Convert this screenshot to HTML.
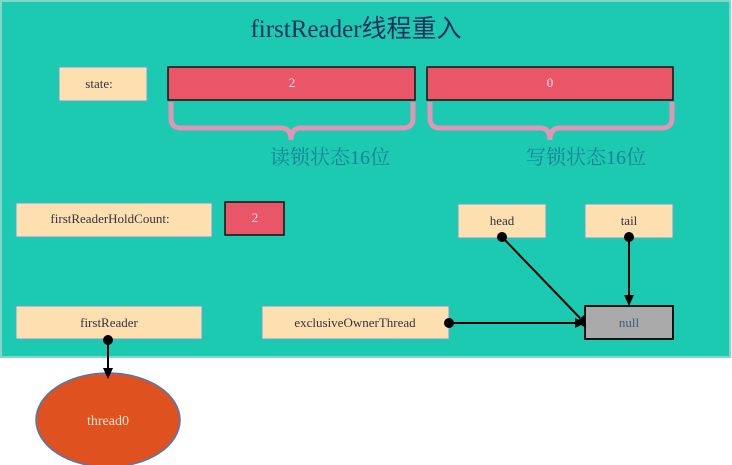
<!DOCTYPE html>
<html><head><meta charset="utf-8"><style>
html,body{margin:0;padding:0;background:#fff;width:732px;height:465px;overflow:hidden}
svg text{font-family:"Liberation Serif","Noto Serif CJK SC",serif}
</style></head><body>
<svg width="732" height="465" viewBox="0 0 732 465" xmlns="http://www.w3.org/2000/svg">
<rect x="0" y="0" width="732" height="465" fill="#fff"/>
<rect x="1" y="1" width="729" height="356" fill="#1ccab1" stroke="#7fd8c8" stroke-width="2"/>
<text x="356" y="37" text-anchor="middle" font-size="25" fill="#1c2f5e">firstReader<tspan font-family="Noto Sans CJK SC,sans-serif">线程重入</tspan></text>
<g font-size="13" text-anchor="middle">
<rect x="59" y="67" width="88" height="34" fill="#fedfb0" stroke="#5aa8d8"/>
<text x="99" y="88" fill="#334">state:</text>
<rect x="168" y="67" width="247" height="33" fill="#e85668" stroke="#111" stroke-width="1.5"/>
<text x="292" y="87" fill="#fde">2</text>
<rect x="427" y="67" width="246" height="33" fill="#e85668" stroke="#111" stroke-width="1.5"/>
<text x="550" y="87" fill="#fde">0</text>
</g>
<g fill="none" stroke="#e395b6" stroke-width="5">
<path d="M171 102 V118 Q171 128 181 128 H281 Q291 128 291 140 Q291 128 301 128 H403 Q413 128 413 118 V102"/>
<path d="M430 102 V118 Q430 128 440 128 H540 Q550 128 550 140 Q550 128 560 128 H662 Q672 128 672 118 V102"/>
</g>
<g font-size="20" fill="#1c7f98" font-family="Noto Sans CJK SC,sans-serif" text-anchor="middle">
<text x="330" y="164">读锁状态16位</text>
<text x="586" y="164">写锁状态16位</text>
</g>
<g font-size="13" text-anchor="middle" fill="#334">
<rect x="16" y="203" width="196" height="34" fill="#fedfb0" stroke="#5aa8d8"/>
<text x="110" y="223">firstReaderHoldCount:</text>
<rect x="225" y="202" width="59" height="33" fill="#e85668" stroke="#111" stroke-width="1.5"/>
<text x="255" y="222" fill="#fde">2</text>
<rect x="458" y="204" width="88" height="34" fill="#fedfb0" stroke="#5aa8d8"/>
<text x="502" y="225">head</text>
<rect x="585" y="204" width="88" height="34" fill="#fedfb0" stroke="#5aa8d8"/>
<text x="629" y="225">tail</text>
<rect x="16" y="306" width="186" height="33" fill="#fedfb0" stroke="#5aa8d8"/>
<text x="109" y="327">firstReader</text>
<rect x="262" y="306" width="187" height="33" fill="#fedfb0" stroke="#5aa8d8"/>
<text x="355" y="327">exclusiveOwnerThread</text>
<rect x="585" y="306" width="88" height="33" fill="#aaaaaa" stroke="#111" stroke-width="2"/>
<text x="629" y="327" fill="#3a5a7a">null</text>
</g>
<ellipse cx="108" cy="420" rx="72" ry="47" fill="#e05120" stroke="#4a7ab8" stroke-width="1.5"/>
<text x="108" y="425" font-size="14" text-anchor="middle" fill="#fde6d0">thread0</text>
<g stroke="#000" stroke-width="2" fill="#000">
<circle cx="108" cy="340" r="4"/><line x1="108" y1="340" x2="108" y2="370"/>
<polygon points="103,368 113,368 108,379" stroke="none"/>
<circle cx="502" cy="237" r="4"/><line x1="502" y1="237" x2="580" y2="318"/>
<polygon points="576,322 584,315 586,328" stroke="none"/>
<circle cx="629" cy="237" r="4"/><line x1="629" y1="237" x2="629" y2="296"/>
<polygon points="624,295 634,295 629,306" stroke="none"/>
<circle cx="449" cy="323" r="4"/><line x1="449" y1="323" x2="576" y2="323"/>
<polygon points="575,318 575,328 585,323" stroke="none"/>
</g>
</svg>
</body></html>
